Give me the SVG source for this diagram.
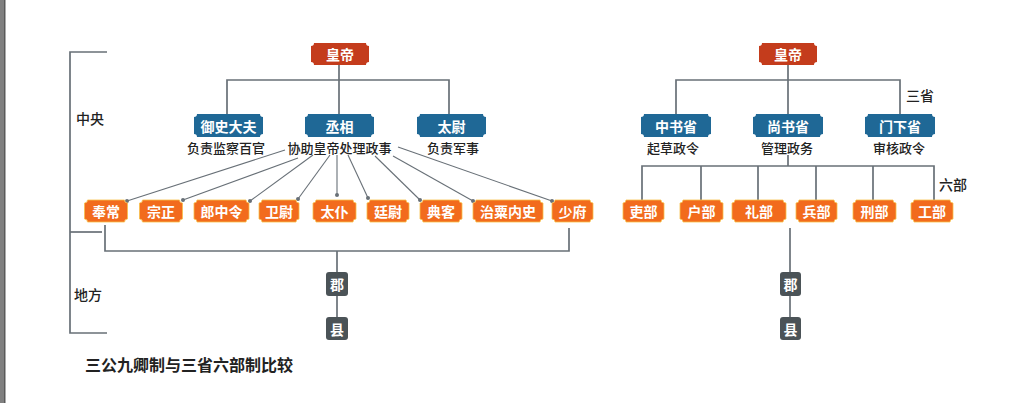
<svg xmlns="http://www.w3.org/2000/svg" width="1024" height="403" viewBox="0 0 1024 403">
<style>
.ln{fill:none;stroke:#687077;stroke-width:1.7}
.dl{fill:none;stroke:#687077;stroke-width:1.1}
.dot{fill:#687077}
.red{fill:#c43c1c}
.blue{fill:#1f6896}
.org{fill:#f26b1d;stroke:#f8c04a;stroke-width:0.8}
.gry{fill:#4b5357}
.bt{font-family:"Noto Sans CJK SC","Noto Sans",sans-serif;font-size:14px;font-weight:bold;fill:#fff;text-anchor:middle;dominant-baseline:central}
.st{font-family:"Noto Sans CJK SC","Noto Sans",sans-serif;font-size:13px;font-weight:500;fill:#222;text-anchor:middle;dominant-baseline:central}
.lb{font-family:"Noto Sans CJK SC","Noto Sans",sans-serif;font-size:14px;font-weight:500;fill:#222;dominant-baseline:central}
.tt{font-family:"Noto Sans CJK SC","Noto Sans",sans-serif;font-size:16px;font-weight:bold;fill:#222;dominant-baseline:central}
</style>
<rect x="0" y="0" width="1024" height="403" fill="#ffffff"/>
<rect x="0" y="0" width="5" height="403" fill="#808080"/>
<rect x="4" y="0" width="1.5" height="403" fill="#5a5a5a"/>

<g id="connectors">
  <path class="ln" d="M107,52 H70 V333 H107"/>
  <path class="ln" d="M70,232 H102"/>
  <path class="ln" d="M339,65 V114"/>
  <path class="ln" d="M227,114 V80 H449 V114"/>
  <g class="dl">
    <path d="M285,150 L127,201"/>
    <path d="M298,158 L183,200"/>
    <path d="M313,155 L250,201"/>
    <path d="M330,155 L298,199"/>
    <path d="M337,155 L337,195"/>
    <path d="M348,155 L368,198"/>
    <path d="M375,156 L420,200"/>
    <path d="M393,156 L473,201"/>
    <path d="M398,147 L552,201"/>
  </g>
  <g class="dot">
    <circle cx="127" cy="201" r="2"/>
    <circle cx="183" cy="200" r="2"/>
    <circle cx="250" cy="201" r="2"/>
    <circle cx="298" cy="199" r="2"/>
    <circle cx="337" cy="195" r="2"/>
    <circle cx="368" cy="198" r="2"/>
    <circle cx="420" cy="200" r="2"/>
    <circle cx="473" cy="201" r="2"/>
    <circle cx="552" cy="201" r="2"/>
  </g>
  <path class="ln" d="M105,225 V251 H569 V228"/>
  <path class="ln" d="M337,251 V272"/>
  <path class="ln" d="M337,296 V317"/>
  <path class="ln" d="M788,65 V114"/>
  <path class="ln" d="M676,114 V80 H900 V114"/>
  <path class="ln" d="M788,155 V166"/>
  <path class="ln" d="M642,200 V166 H934 V200"/>
  <path class="ln" d="M701,166 V200 M758,166 V200 M816,166 V200 M873,166 V200"/>
  <path class="ln" d="M790,228 V272"/>
  <path class="ln" d="M790,296 V317"/>
</g>

<g id="label-zhongyang"><text class="lb" x="76" y="118">中央</text></g>
<g id="label-difang"><text class="lb" x="74" y="294">地方</text></g>
<g id="label-sansheng"><text class="lb" x="906" y="95">三省</text></g>
<g id="label-liubu"><text class="lb" x="939" y="184">六部</text></g>

<g id="huangdi-l"><path class="red" d="M314,43 H366 A3,3 0 0 0 369,46 V62 A3,3 0 0 0 366,65 H314 A3,3 0 0 0 311,62 V46 A3,3 0 0 0 314,43 Z"/><text class="bt" x="340" y="54">皇帝</text></g>
<g id="yushidafu"><path class="blue" d="M197,114 H260 A3,3 0 0 0 263,117 V134 A3,3 0 0 0 260,137 H197 A3,3 0 0 0 194,134 V117 A3,3 0 0 0 197,114 Z"/><text class="bt" x="228.5" y="125.5">御史大夫</text><text class="st" x="226" y="147">负责监察百官</text></g>
<g id="chengxiang"><path class="blue" d="M308,114 H371 A3,3 0 0 0 374,117 V134 A3,3 0 0 0 371,137 H308 A3,3 0 0 0 305,134 V117 A3,3 0 0 0 308,114 Z"/><text class="bt" x="339.5" y="125.5">丞相</text><text class="st" x="339.5" y="147">协助皇帝处理政事</text></g>
<g id="taiwei"><path class="blue" d="M420,114 H483 A3,3 0 0 0 486,117 V134 A3,3 0 0 0 483,137 H420 A3,3 0 0 0 417,134 V117 A3,3 0 0 0 420,114 Z"/><text class="bt" x="451.5" y="125.5">太尉</text><text class="st" x="453" y="147">负责军事</text></g>

<g id="fengchang"><path class="org" d="M87.5,200 H124.5 A3,3 0 0 0 127.5,203 V219 A3,3 0 0 0 124.5,222 H87.5 A3,3 0 0 0 84.5,219 V203 A3,3 0 0 0 87.5,200 Z"/><text class="bt" x="106" y="211">奉常</text></g>
<g id="zongzheng"><path class="org" d="M142.5,200 H179.5 A3,3 0 0 0 182.5,203 V219 A3,3 0 0 0 179.5,222 H142.5 A3,3 0 0 0 139.5,219 V203 A3,3 0 0 0 142.5,200 Z"/><text class="bt" x="161" y="211">宗正</text></g>
<g id="langzhongling"><path class="org" d="M197,200 H246 A3,3 0 0 0 249,203 V219 A3,3 0 0 0 246,222 H197 A3,3 0 0 0 194,219 V203 A3,3 0 0 0 197,200 Z"/><text class="bt" x="221.5" y="211">郎中令</text></g>
<g id="weiwei"><path class="org" d="M262,200 H296 A3,3 0 0 0 299,203 V219 A3,3 0 0 0 296,222 H262 A3,3 0 0 0 259,219 V203 A3,3 0 0 0 262,200 Z"/><text class="bt" x="279" y="211">卫尉</text></g>
<g id="taipu"><path class="org" d="M316,200 H353 A3,3 0 0 0 356,203 V219 A3,3 0 0 0 353,222 H316 A3,3 0 0 0 313,219 V203 A3,3 0 0 0 316,200 Z"/><text class="bt" x="334.5" y="211">太仆</text></g>
<g id="tingwei"><path class="org" d="M370,200 H406 A3,3 0 0 0 409,203 V219 A3,3 0 0 0 406,222 H370 A3,3 0 0 0 367,219 V203 A3,3 0 0 0 370,200 Z"/><text class="bt" x="388" y="211">廷尉</text></g>
<g id="dianke"><path class="org" d="M423,200 H459 A3,3 0 0 0 462,203 V219 A3,3 0 0 0 459,222 H423 A3,3 0 0 0 420,219 V203 A3,3 0 0 0 423,200 Z"/><text class="bt" x="441" y="211">典客</text></g>
<g id="zhisuneishi"><path class="org" d="M476,200 H540 A3,3 0 0 0 543,203 V219 A3,3 0 0 0 540,222 H476 A3,3 0 0 0 473,219 V203 A3,3 0 0 0 476,200 Z"/><text class="bt" x="508" y="211">治粟内史</text></g>
<g id="shaofu"><path class="org" d="M555,200 H590 A3,3 0 0 0 593,203 V219 A3,3 0 0 0 590,222 H555 A3,3 0 0 0 552,219 V203 A3,3 0 0 0 555,200 Z"/><text class="bt" x="572.5" y="211">少府</text></g>

<g id="jun-l"><rect class="gry" x="326" y="272" width="22" height="24" rx="3"/><text class="bt" x="337" y="284">郡</text></g>
<g id="xian-l"><rect class="gry" x="326" y="317" width="22" height="23" rx="3"/><text class="bt" x="337" y="328.5">县</text></g>

<g id="huangdi-r"><path class="red" d="M762,43 H814 A3,3 0 0 0 817,46 V62 A3,3 0 0 0 814,65 H762 A3,3 0 0 0 759,62 V46 A3,3 0 0 0 762,43 Z"/><text class="bt" x="788" y="54">皇帝</text></g>
<g id="zhongshusheng"><path class="blue" d="M644,114 H708 A3,3 0 0 0 711,117 V134 A3,3 0 0 0 708,137 H644 A3,3 0 0 0 641,134 V117 A3,3 0 0 0 644,114 Z"/><text class="bt" x="676" y="125.5">中书省</text><text class="st" x="673" y="147">起草政令</text></g>
<g id="shangshusheng"><path class="blue" d="M756,114 H820 A3,3 0 0 0 823,117 V134 A3,3 0 0 0 820,137 H756 A3,3 0 0 0 753,134 V117 A3,3 0 0 0 756,114 Z"/><text class="bt" x="788" y="125.5">尚书省</text><text class="st" x="787" y="147">管理政务</text></g>
<g id="menxiasheng"><path class="blue" d="M868,114 H932 A3,3 0 0 0 935,117 V134 A3,3 0 0 0 932,137 H868 A3,3 0 0 0 865,134 V117 A3,3 0 0 0 868,114 Z"/><text class="bt" x="900" y="125.5">门下省</text><text class="st" x="899" y="147">审核政令</text></g>

<g id="libu-official"><path class="org" d="M626,200 H661 A3,3 0 0 0 664,203 V219 A3,3 0 0 0 661,222 H626 A3,3 0 0 0 623,219 V203 A3,3 0 0 0 626,200 Z"/><text class="bt" x="643.5" y="211">吏部</text></g>
<g id="hubu"><path class="org" d="M683,200 H720 A3,3 0 0 0 723,203 V219 A3,3 0 0 0 720,222 H683 A3,3 0 0 0 680,219 V203 A3,3 0 0 0 683,200 Z"/><text class="bt" x="701.5" y="211">户部</text></g>
<g id="libu-rites"><path class="org" d="M735,200 H783 A3,3 0 0 0 786,203 V219 A3,3 0 0 0 783,222 H735 A3,3 0 0 0 732,219 V203 A3,3 0 0 0 735,200 Z"/><text class="bt" x="759" y="211">礼部</text></g>
<g id="bingbu"><path class="org" d="M799,200 H834 A3,3 0 0 0 837,203 V219 A3,3 0 0 0 834,222 H799 A3,3 0 0 0 796,219 V203 A3,3 0 0 0 799,200 Z"/><text class="bt" x="816.5" y="211">兵部</text></g>
<g id="xingbu"><path class="org" d="M856,200 H893 A3,3 0 0 0 896,203 V219 A3,3 0 0 0 893,222 H856 A3,3 0 0 0 853,219 V203 A3,3 0 0 0 856,200 Z"/><text class="bt" x="874.5" y="211">刑部</text></g>
<g id="gongbu"><path class="org" d="M914,200 H950 A3,3 0 0 0 953,203 V219 A3,3 0 0 0 950,222 H914 A3,3 0 0 0 911,219 V203 A3,3 0 0 0 914,200 Z"/><text class="bt" x="932" y="211">工部</text></g>

<g id="jun-r"><rect class="gry" x="780" y="272" width="21" height="24" rx="3"/><text class="bt" x="790.5" y="284">郡</text></g>
<g id="xian-r"><rect class="gry" x="780" y="317" width="21" height="23" rx="3"/><text class="bt" x="790.5" y="328.5">县</text></g>

<g id="title"><text class="tt" x="85" y="364">三公九卿制与三省六部制比较</text></g>
</svg>
